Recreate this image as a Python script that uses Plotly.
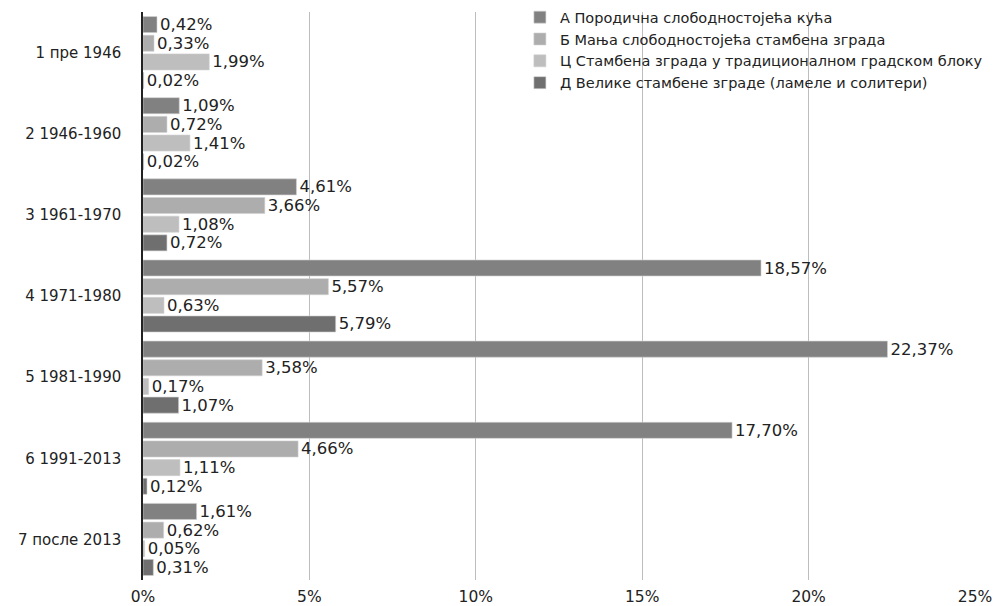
import plotly.graph_objects as go

categories = ["1 пре 1946", "2 1946-1960", "3 1961-1970", "4 1971-1980",
              "5 1981-1990", "6 1991-2013", "7 после 2013"]
series_names = ["А Породична слободностојећа кућа",
                "Б Мања слободностојећа стамбена зграда",
                "Ц Стамбена зграда у традиционалном градском блоку",
                "Д Велике стамбене зграде (ламеле и солитери)"]
vals_a = [0.42, 1.09, 4.61, 18.57, 22.37, 17.70, 1.61]
vals_b = [0.33, 0.72, 3.66, 5.57, 3.58, 4.66, 0.62]
vals_c = [1.99, 1.41, 1.08, 0.63, 0.17, 1.11, 0.05]
vals_d = [0.02, 0.02, 0.72, 5.79, 1.07, 0.12, 0.31]
colors = ["#818181", "#adadad", "#bebebe", "#6f6f6f"]
tick_vals = [0, 5, 10, 15, 20, 25]
tick_text = ["0%", "5%", "10%", "15%", "20%", "25%"]

FONT = "DejaVu Sans, Liberation Sans, sans-serif"

fig = go.Figure()
for name, vals, col in zip(series_names, [vals_a, vals_b, vals_c, vals_d], colors):
    fig.add_trace(go.Bar(
        y=categories, x=vals, name=name, orientation="h",
        marker=dict(color=col, line=dict(color="#d0d0d0", width=0.6)),
        text=[f"{v:.2f}%".replace(".", ",") for v in vals],
        textposition="outside", cliponaxis=False, constraintext="none",
        textfont=dict(size=16.5, color="#222222", family=FONT),
    ))

fig.update_layout(
    width=993, height=606,
    margin=dict(l=143, r=18, t=12, b=26, autoexpand=False),
    barmode="group", bargap=0.08, bargroupgap=0.14,
    plot_bgcolor="white", paper_bgcolor="white",
    font=dict(family=FONT, color="#222222"),
    showlegend=True,
    legend=dict(x=0.453, y=1.019, xanchor="left", yanchor="top",
                font=dict(size=14.5, color="#222222", family=FONT),
                bgcolor="rgba(255,255,255,0)", tracegroupgap=0,
                itemwidth=30, traceorder="normal"),
)
fig.update_xaxes(range=[0, 25], tickvals=tick_vals, ticktext=tick_text,
                 showgrid=True, gridcolor="#bdbdbd", gridwidth=1,
                 zeroline=False, showline=False, automargin=False,
                 ticklabeloverflow="allow",
                 tickfont=dict(size=15.5, color="#222222"), ticks="", ticklabelstandoff=5)
fig.update_yaxes(autorange="reversed", showline=True, linecolor="#222222", linewidth=1.5,
                 automargin=False,
                 tickfont=dict(size=15, color="#222222"), ticks="", ticklabelstandoff=17,
                 showgrid=False)
fig.write_html("out.html", config={"displayModeBar": False},
               post_script="document.body.style.margin='0';")
